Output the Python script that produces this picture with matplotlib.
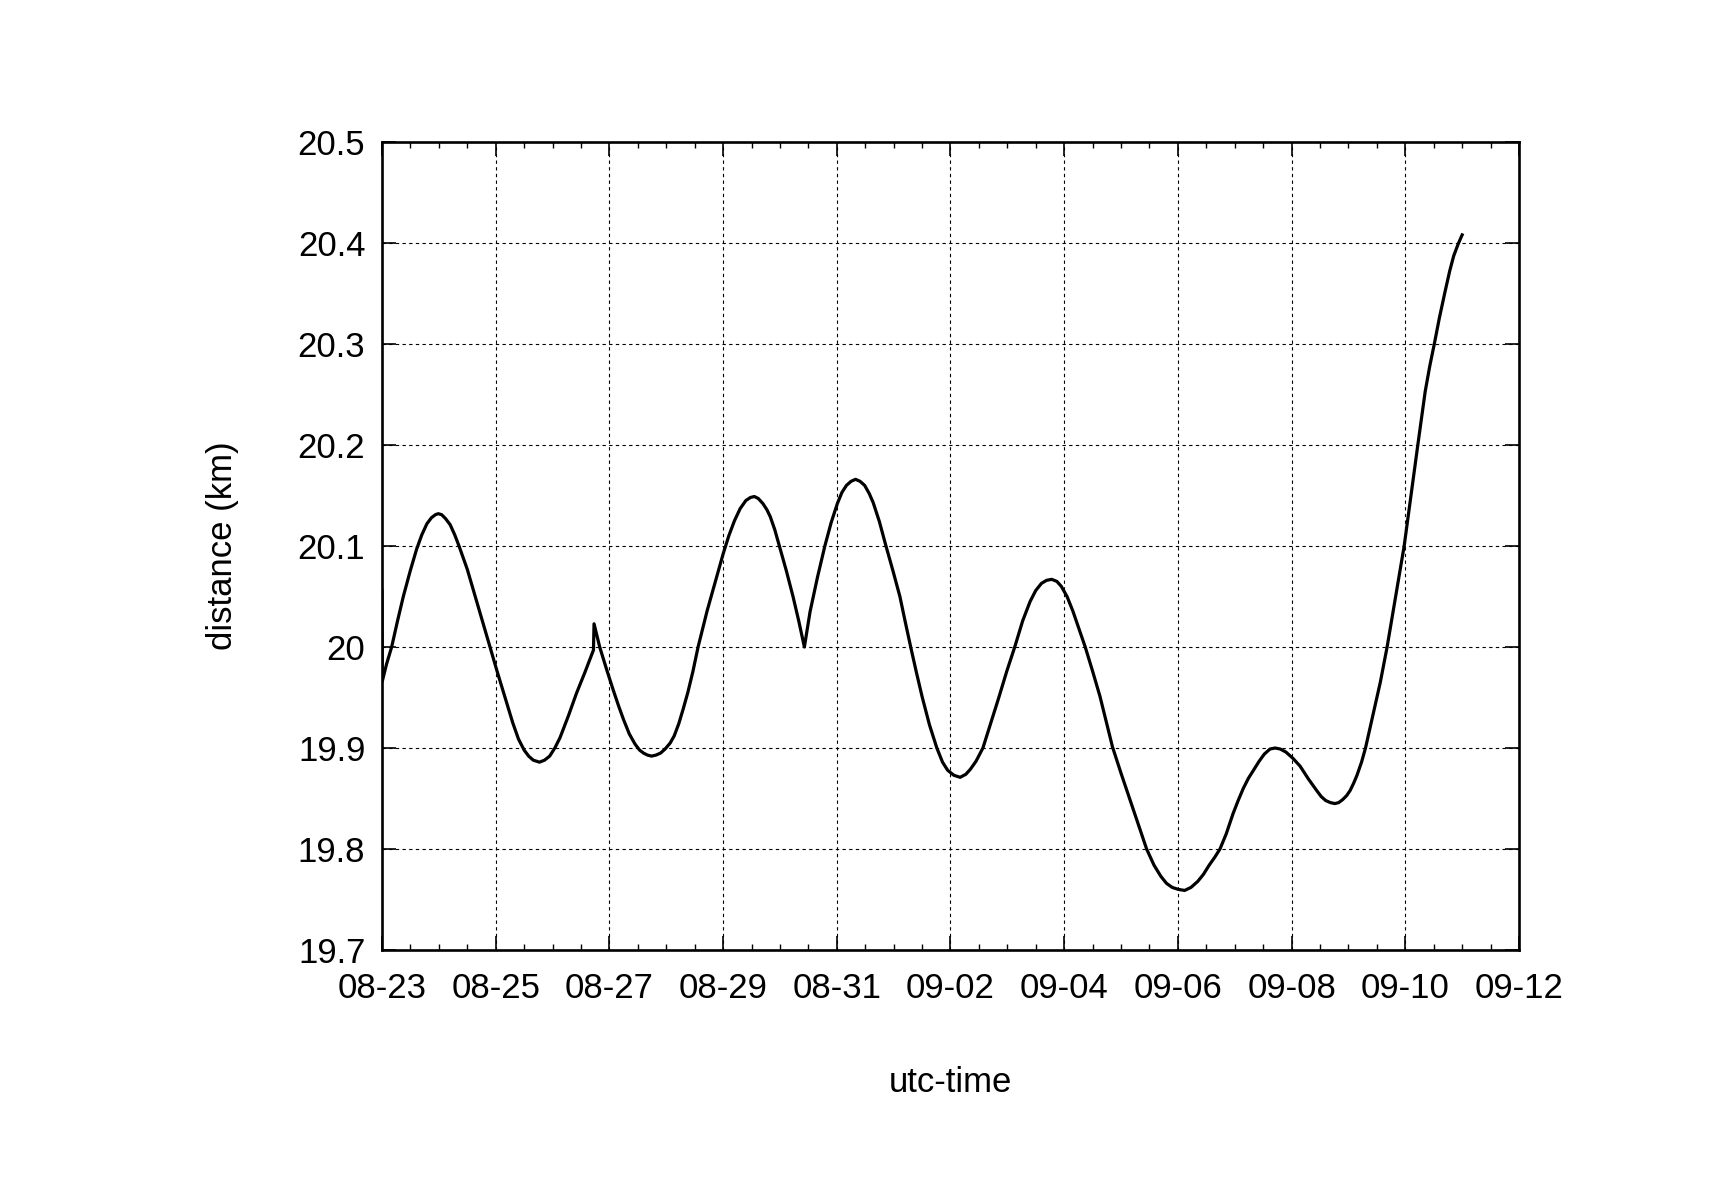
import datetime as dt
import matplotlib
matplotlib.use("Agg")
import matplotlib.pyplot as plt
import matplotlib.dates as mdates
from matplotlib.ticker import FormatStrFormatter, MultipleLocator

# days after 2011-08-23 00:00 utc, distance in km
days = [0.000, 0.005, 0.08, 0.17, 0.27, 0.375, 0.50, 0.61, 0.70, 0.79, 0.87, 0.94,
        0.99, 1.05, 1.12, 1.20, 1.28, 1.355, 1.50, 1.64, 1.77, 1.90, 2.03, 2.16,
        2.30, 2.40, 2.50, 2.58, 2.66, 2.77, 2.86, 2.95, 3.04, 3.13, 3.28, 3.42,
        3.57, 3.72, 3.73,
        3.83, 3.95, 4.07, 4.16, 4.25, 4.35, 4.45, 4.53, 4.60, 4.67, 4.74, 4.82,
        4.90, 4.98, 5.07, 5.14, 5.22, 5.30, 5.38, 5.47, 5.56, 5.72, 5.89, 6.00,
        6.10, 6.20, 6.30, 6.40, 6.48, 6.55, 6.62, 6.70, 6.77, 6.83, 6.91, 6.99,
        7.11, 7.23, 7.33, 7.43,
        7.53, 7.66, 7.79, 7.90, 8.01, 8.09, 8.17, 8.25, 8.33, 8.41, 8.49, 8.57,
        8.64, 8.75, 8.865, 8.99, 9.11, 9.20, 9.30, 9.40, 9.50, 9.63, 9.76, 9.86,
        9.95, 10.06, 10.17, 10.27, 10.35, 10.45, 10.57, 10.71, 10.85, 10.99, 11.13,
        11.27, 11.40, 11.50, 11.60, 11.69, 11.78, 11.87, 11.95, 12.05, 12.15, 12.26,
        12.37, 12.50, 12.63, 12.74, 12.85, 13.00, 13.15, 13.30, 13.45, 13.58, 13.70,
        13.80, 13.90, 14.01, 14.12, 14.23, 14.35, 14.45, 14.55, 14.65, 14.74, 14.85,
        14.97, 15.06, 15.15, 15.24, 15.33, 15.43, 15.52, 15.62, 15.71, 15.80, 15.90,
        16.02, 16.15, 16.30, 16.44, 16.52, 16.60, 16.68, 16.76, 16.83, 16.90, 16.97,
        17.03, 17.09, 17.15, 17.23, 17.30, 17.38, 17.45, 17.56, 17.68, 17.83, 17.98,
        18.10, 18.22, 18.35, 18.43, 18.51, 18.60, 18.70, 18.78, 18.85, 18.93, 19.00]
dist = [20.056, 19.966, 19.983, 20.000, 20.025, 20.050, 20.076, 20.097, 20.111, 20.122,
        20.128, 20.131, 20.132, 20.131, 20.127, 20.121, 20.111, 20.100, 20.077, 20.050,
        20.025, 20.000, 19.975, 19.951, 19.925, 19.909, 19.898, 19.892, 19.888, 19.886,
        19.888, 19.892, 19.900, 19.910, 19.932, 19.954, 19.975, 19.997, 20.023,
        20.000, 19.978, 19.957, 19.942, 19.928, 19.914, 19.904, 19.898, 19.895, 19.893,
        19.892, 19.893, 19.895, 19.899, 19.905, 19.912, 19.924, 19.939, 19.955, 19.976,
        20.000, 20.036, 20.070, 20.092, 20.110, 20.125, 20.137, 20.145, 20.148, 20.149,
        20.147, 20.142, 20.136, 20.129, 20.116, 20.100, 20.076, 20.050, 20.026, 20.000,
        20.035, 20.069, 20.100, 20.123, 20.142, 20.153, 20.160, 20.164, 20.166, 20.164,
        20.160, 20.152, 20.143, 20.124, 20.100, 20.075, 20.050, 20.026, 20.000, 19.975,
        19.951, 19.923, 19.900, 19.886, 19.878, 19.873, 19.871, 19.874, 19.879, 19.887,
        19.900, 19.925, 19.950, 19.976, 20.000, 20.026, 20.045, 20.056, 20.063, 20.066,
        20.067, 20.065, 20.060, 20.050, 20.036, 20.018, 20.000, 19.976, 19.951, 19.926,
        19.901, 19.875, 19.850, 19.825, 19.800, 19.784, 19.773, 19.766, 19.762, 19.760,
        19.759, 19.762, 19.768, 19.775, 19.784, 19.792, 19.800, 19.815, 19.835, 19.848,
        19.860, 19.870, 19.878, 19.887, 19.894, 19.899, 19.900, 19.899, 19.896, 19.890,
        19.882, 19.869, 19.858, 19.852, 19.848, 19.846, 19.845, 19.846, 19.849, 19.853,
        19.858, 19.865, 19.873, 19.886, 19.900, 19.920, 19.938, 19.965, 20.000, 20.050,
        20.100, 20.150, 20.200, 20.253, 20.278, 20.300, 20.326, 20.352, 20.372, 20.387,
        20.399, 20.408]

start = dt.datetime(2011, 8, 23)
end = dt.datetime(2011, 9, 12)
t = [start + dt.timedelta(days=d) for d in days]

plt.rcParams['font.family'] = ['Liberation Sans', 'DejaVu Sans']

fig = plt.figure(figsize=(17.16, 12), dpi=100)
ax = fig.add_axes([0.2226, 0.2083, 0.6626, 0.6734])

ax.plot(t, dist, color='black', linewidth=2.3, solid_joinstyle='round', zorder=3)

ax.set_xlim(start, end)
ax.set_ylim(19.7, 20.5)
ax.xaxis.set_major_locator(mdates.DayLocator(bymonthday=[23, 25, 27, 29, 31, 2, 4, 6, 8, 10, 12]))
ax.xaxis.set_minor_locator(mdates.HourLocator(byhour=[0, 12]))
ax.xaxis.set_major_formatter(mdates.DateFormatter('%m-%d'))
ax.yaxis.set_major_locator(MultipleLocator(0.1))
ax.yaxis.set_major_formatter(FormatStrFormatter('%g'))

ax.grid(True, which='major', color='black', linewidth=0.8, linestyle=(0, (3, 3)), zorder=1)

ax.tick_params(which='major', direction='in', length=10, width=1.2,
               top=True, right=True, labelsize=25, pad=12)
ax.tick_params(axis='x', which='major', pad=16)
ax.tick_params(which='minor', direction='in', length=4.5, width=1.0,
               top=True, right=False, left=False)
for s in ax.spines.values():
    s.set_linewidth(1.9)

ax.set_xlabel('utc-time', fontsize=25, labelpad=44)
ax.set_ylabel('distance (km)', fontsize=25, labelpad=42)

fig.savefig('out.png', dpi=100)
